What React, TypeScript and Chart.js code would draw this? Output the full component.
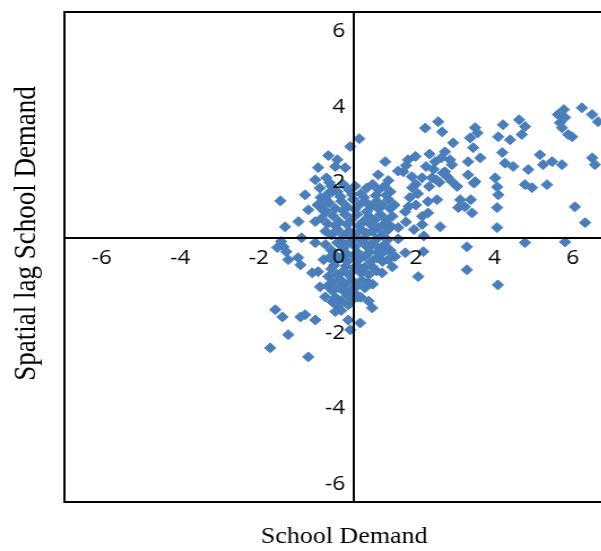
import React, { useEffect, useRef } from "react";
import { Chart, registerables } from "chart.js";

Chart.register(...registerables);

// ---- axis setup (values) ----
const X_TICKS = [-6, -4, -2, 2, 4, 6];
const Y_TICKS = [-6, -4, -2, 0, 2, 4, 6];
const X_MIN = -6.95;
const X_MAX = 7.3;
const Y_MIN = -6.48;
const Y_MAX = 6.52;
const CROSS_X = 0.43; // x value where the vertical axis line sits
const CROSS_Y = 0.53; // y value where the horizontal axis line sits
const Y_LABEL_X = 0.2; // x value at which the y tick labels end (just left of the axis line)

const X_TITLE = "School Demand";
const Y_TITLE = "Spatial lag School Demand";
const MARKER_COLOR = "rgb(74,126,187)";

// ---- data: [School Demand, Spatial lag School Demand] ----
const coreUpper: [number, number][] = [
  [-0.45, 1.85], [-0.3, 1.6], [-0.15, 1.9], [0.0, 1.75], [0.15, 1.95], [0.3, 1.8], [0.45, 1.9],
  [0.6, 1.7], [0.75, 1.85], [0.9, 1.95], [1.05, 1.8], [1.2, 1.9], [1.35, 1.75],
  [-0.5, 1.4], [-0.35, 1.25], [-0.2, 1.45], [-0.05, 1.3], [0.1, 1.5], [0.25, 1.35], [0.4, 1.55],
  [0.55, 1.4], [0.7, 1.5], [0.85, 1.35], [1.0, 1.5], [1.15, 1.4], [1.3, 1.55], [1.45, 1.4],
  [-0.4, 1.05], [-0.25, 0.9], [-0.1, 1.1], [0.05, 0.95], [0.2, 1.15], [0.35, 1.0], [0.5, 1.15],
  [0.65, 0.95], [0.8, 1.1], [0.95, 1.0], [1.1, 1.15], [1.25, 1.0], [1.4, 1.1],
  [-0.3, 0.7], [-0.15, 0.6], [0.0, 0.75], [0.15, 0.6], [0.3, 0.7], [0.45, 0.6], [0.6, 0.75],
  [0.75, 0.65], [0.9, 0.7], [1.05, 0.8],
];

const coreLower: [number, number][] = [
  [-0.3, 0.35], [-0.15, 0.2], [0.0, 0.4], [0.15, 0.25], [0.3, 0.4], [0.45, 0.3], [0.6, 0.45],
  [0.75, 0.3], [0.9, 0.4], [1.05, 0.25], [1.2, 0.35], [1.35, 0.2],
  [-0.35, -0.05], [-0.2, 0.0], [-0.05, -0.1], [0.1, 0.0], [0.25, -0.1], [0.4, 0.05], [0.55, -0.05],
  [0.7, 0.05], [0.85, -0.1], [1.0, 0.0], [1.15, -0.1], [1.3, -0.05],
  [-0.15, -0.3], [0.0, -0.45], [0.15, -0.35], [0.3, -0.45], [0.45, -0.3], [0.6, -0.4], [0.8, -0.45],
  [1.0, -0.35],
  [-0.25, -0.75], [-0.1, -0.65], [0.05, -0.8], [0.2, -0.7], [0.35, -0.85], [0.5, -0.75], [0.7, -0.8],
  [0.9, -0.7],
  [-0.05, -1.05], [0.1, -1.15], [0.25, -1.0], [0.4, -1.1], [0.6, -1.05], [0.8, -1.15],
];

const coreFill: [number, number][] = [
  [-0.22, 1.72], [0.08, 1.62], [0.38, 1.68], [0.68, 1.6], [0.98, 1.65], [1.25, 1.66], [-0.42, 1.6],
  [-0.28, 1.22], [0.15, 1.25], [0.45, 1.28], [0.75, 1.22], [1.05, 1.3], [1.35, 1.3],
  [-0.05, 0.85], [0.25, 0.88], [0.55, 0.85], [0.85, 0.88], [1.18, 0.88], [1.35, 0.85],
  [0.08, 0.45], [0.38, 0.5], [0.7, 0.52], [1.0, 0.5], [1.28, 0.48],
  [-0.08, 0.1], [0.22, 0.12], [0.5, 0.15], [0.82, 0.15], [1.12, 0.1],
  [-0.08, -0.2], [0.22, -0.22], [0.5, -0.2], [0.7, -0.25],
  [0.08, -0.58], [0.38, -0.6], [0.62, -0.6], [-0.12, -0.88], [0.18, -0.9], [0.45, -0.95],
  [0.28, -1.25], [0.1, -1.4],
];

const leftSide: [number, number][] = [
  [-0.23, 2.71], [0.0, 2.6], [-0.49, 2.39], [-0.28, 2.12], [-0.56, 2.07], [-0.2, 1.99], [-0.29, 1.46],
  [-1.45, 1.51], [-0.82, 1.67], [-1.33, 0.82], [-0.99, 0.96], [-0.74, 1.27], [-0.39, 1.41],
  [-0.56, 0.96], [-0.13, 1.75],
  [-1.43, 0.43], [-0.91, 0.53], [-1.0, 0.0], [-1.3, 0.16], [-1.37, 0.29], [-0.56, 0.4], [-1.25, -0.05],
  [-0.94, -0.19], [-0.49, -0.37], [-1.53, 0.27], [-0.64, -0.4], [-0.23, -0.5], [-0.44, -0.77],
  [-0.31, -1.04], [-0.13, -1.17],
];

const lowerTail: [number, number][] = [
  [0.02, -1.3], [-0.05, -1.43], [-1.58, -1.38], [-1.4, -1.57], [-0.94, -1.57], [-0.82, -1.51],
  [-0.56, -1.65], [0.28, -1.65], [0.33, -1.91], [0.58, -1.73], [-1.25, -2.04], [-1.71, -2.39],
  [-0.74, -2.63], [0.89, -1.33], [0.53, -1.04],
];

const nearAxisRight: [number, number][] = [
  [0.56, 3.16], [0.33, 2.95], [0.2, 2.39], [-0.05, 2.42], [1.22, 2.55], [1.8, 2.6], [1.04, 2.2],
  [1.68, 2.28],
  [1.91, 1.86], [2.16, 2.12], [2.31, 1.49], [1.73, 1.22], [2.16, 0.88], [1.55, 0.8], [1.14, 0.61],
  [1.3, 2.05], [1.55, 2.3], [1.75, 2.45], [1.9, 2.15], [2.0, 1.95], [1.85, 1.6], [2.05, 1.7],
  [2.0, 1.4], [1.75, 0.95], [1.95, 0.75], [1.3, 0.75], [1.55, 0.5],
  [1.99, 2.69], [2.26, 2.42], [2.52, 2.07], [2.69, 2.25], [2.87, 2.6], [3.05, 1.89], [3.48, 1.98],
  [3.4, 1.54], [4.27, 2.51], [3.13, 1.54], [1.82, 1.36], [2.16, 1.1], [2.34, 1.89],
  [0.79, 0.29], [1.04, 0.13], [1.29, 0.21], [1.47, 0.03], [0.89, -0.24], [1.14, -0.4], [1.4, -0.24],
  [0.79, -0.66],
  [2.06, -0.5], [2.19, 0.16], [1.73, 0.13], [2.2, 0.58],
];

const upperRight: [number, number][] = [
  [2.24, 3.44], [2.57, 3.61], [2.67, 3.34], [3.51, 3.45], [3.46, 2.92], [2.95, 3.05], [2.74, 2.81],
  [2.49, 2.55], [2.74, 2.28], [2.92, 2.47], [2.41, 2.12], [2.92, 2.02], [3.33, 2.55], [3.64, 2.65],
  [3.51, 2.02], [4.02, 2.12], [4.07, 1.88], [4.1, 1.67], [4.22, 3.53], [4.1, 3.21], [4.4, 3.13],
  [4.7, 3.27], [4.78, 3.48], [4.2, 2.79], [4.48, 2.42], [4.86, 2.34], [5.16, 2.73], [5.24, 2.47],
  [5.47, 2.55], [5.72, 2.47], [4.96, 1.86], [5.34, 1.94], [5.62, 3.8], [5.8, 3.72], [5.72, 3.45],
  [5.88, 3.27], [6.23, 3.98], [6.49, 3.8], [6.64, 3.61], [6.49, 2.65], [6.56, 2.47], [2.54, 1.54],
  [3.25, 1.35], [6.05, 1.35],
  [3.57, 3.31], [4.63, 3.66], [5.77, 3.93], [5.67, 3.58], [5.98, 3.21], [3.33, 2.2], [3.38, 3.18],
  [4.78, 1.94], [2.45, 2.35], [2.6, 2.0], [2.8, 2.15], [2.35, 2.75], [2.65, 2.65],
];

const lowerRight: [number, number][] = [
  [2.31, 1.19], [3.08, 1.33], [3.43, 1.19], [4.07, 1.33], [4.07, 0.8], [2.62, 0.82], [3.3, 0.29],
  [4.78, 0.4], [5.8, 0.42], [6.31, 0.93], [3.3, -0.32], [4.09, -0.72],
];

const ALL_POINTS = [
  ...coreUpper,
  ...coreLower,
  ...coreFill,
  ...leftSide,
  ...lowerTail,
  ...nearAxisRight,
  ...upperRight,
  ...lowerRight,
];

const frameAndTitles = {
  id: "frameAndTitles",
  afterDraw(chart: any) {
    const { ctx, chartArea: a } = chart;
    ctx.save();
    ctx.strokeStyle = "#000";
    ctx.lineWidth = 2;
    ctx.strokeRect(a.left, a.top, a.right - a.left, a.bottom - a.top);

    ctx.fillStyle = "#000";
    ctx.font = '23px "Liberation Serif"';
    ctx.textAlign = "center";
    ctx.textBaseline = "alphabetic";
    ctx.fillText(X_TITLE, (a.left + a.right) / 2, a.bottom + 41);

    ctx.font = '27px "Liberation Serif"';
    ctx.translate(a.left - 26, (a.top + a.bottom) / 2 - 23.5);
    ctx.rotate(-Math.PI / 2);
    ctx.fillText(Y_TITLE, 0, 0);
    ctx.restore();
  },
};

const noPadding = (s: any) => {
  s.paddingTop = 0;
  s.paddingBottom = 0;
  s.paddingLeft = 0;
  s.paddingRight = 0;
};

export default function App() {
  const canvasRef = useRef<HTMLCanvasElement | null>(null);

  useEffect(() => {
    const canvas = canvasRef.current;
    if (!canvas) return;
    const tickFont = { family: '"Open Sans"', size: 20 };
    const chart = new Chart(canvas, {
      type: "scatter",
      data: {
        datasets: [
          {
            label: "School Demand",
            data: ALL_POINTS.map(([x, y]) => ({ x, y })),
            pointStyle: "rectRot",
            pointRadius: 5,
            pointHoverRadius: 5,
            pointBackgroundColor: MARKER_COLOR,
            pointBorderColor: MARKER_COLOR,
            pointBorderWidth: 1,
          },
        ],
      },
      options: {
        animation: false,
        responsive: false,
        devicePixelRatio: 1,
        events: [],
        layout: { padding: { left: 57, top: 12, right: 16, bottom: 49 } },
        plugins: {
          legend: { display: false },
          tooltip: { enabled: false },
          title: { display: false },
        },
        scales: {
          x: {
            type: "linear",
            min: X_MIN,
            max: X_MAX,
            position: { y: CROSS_Y } as any,
            grid: { display: false, drawTicks: false, z: 1 },
            border: { display: true, color: "#000", width: 2, z: 1 },
            ticks: {
              color: "#000",
              font: tickFont,
              padding: 9,
              autoSkip: false,
              maxRotation: 0,
              z: 2,
              callback: (v: any) => String(v),
            },
            afterBuildTicks: (s: any) => {
              s.ticks = X_TICKS.map((v) => ({ value: v }));
            },
            afterFit: noPadding,
          },
          // y scale carrying the tick labels, placed just left of the axis line
          y: {
            type: "linear",
            min: Y_MIN,
            max: Y_MAX,
            position: { x: Y_LABEL_X } as any,
            grid: { display: false, drawTicks: false, z: 1 },
            border: { display: false, z: 1 },
            ticks: {
              color: "#000",
              font: tickFont,
              autoSkip: false,
              z: 2,
              callback: (v: any) => String(v),
            },
            afterBuildTicks: (s: any) => {
              s.ticks = Y_TICKS.map((v) => ({ value: v }));
            },
            afterFit: noPadding,
          },
          // y axis line
          yAxisLine: {
            type: "linear",
            axis: "y",
            min: Y_MIN,
            max: Y_MAX,
            position: { x: CROSS_X } as any,
            grid: { display: false, drawTicks: false, z: 1 },
            border: { display: true, color: "#000", width: 2, z: 1 },
            ticks: { display: false },
            afterFit: noPadding,
          } as any,
        },
      },
      plugins: [frameAndTitles],
    });
    return () => chart.destroy();
  }, []);

  return (
    <div
      style={{
        position: "fixed",
        left: 0,
        top: 0,
        width: 601,
        height: 551,
        overflow: "hidden",
        background: "#fff",
      }}
    >
      <div
        style={{
          width: 568,
          height: 551,
          transform: "scaleX(1.1303)",
          transformOrigin: "0 0",
        }}
      >
        <canvas ref={canvasRef} width={568} height={551} />
      </div>
    </div>
  );
}
